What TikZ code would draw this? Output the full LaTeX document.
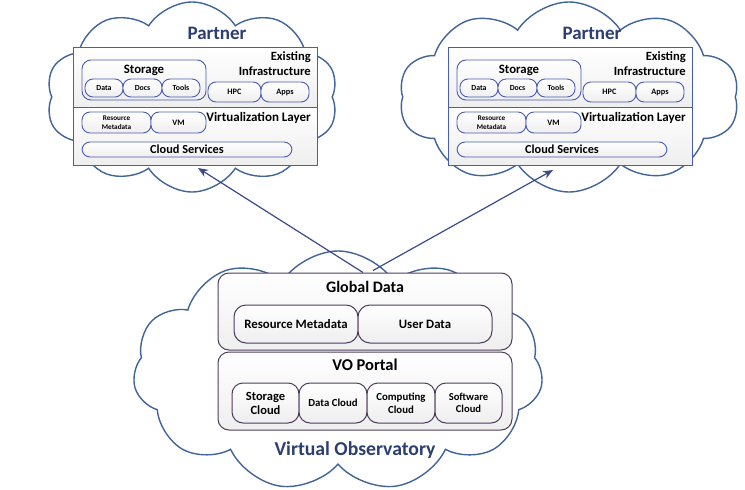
\documentclass[tikz,border=0pt]{standalone}
\usepackage{fontspec}
\setmainfont{Carlito}
\usetikzlibrary{shapes.symbols,arrows.meta,calc}
\definecolor{cloudc}{HTML}{41649B}
\definecolor{pboxc}{HTML}{4A5CB3}
\definecolor{vboxc}{HTML}{4D3C5C}
\definecolor{titlec}{HTML}{2C3E72}
\definecolor{arrowc}{HTML}{3A4A8C}
\newcommand{\partnerblock}[3]{%
  \node[cloudshape, minimum width=#3pt, minimum height=190pt] (#1cloud) at (#2,97) {};
  \node[ptitle] (#1title) at (217,33) {Partner};
  \node[pbox, minimum width=244pt, minimum height=60pt] (#1ei) at (195,77) {};
  \node[pbox, minimum width=244pt, minimum height=58pt] (#1vl) at (195,136) {};
  \node[pbox, rounded corners=9pt, minimum width=124pt, minimum height=40pt] (#1stor) at (144,80) {};
  \node[font=\bfseries\fontsize{12.8}{14}\selectfont] (#1stort) at (144,70) {Storage};
  \node[pbox, pill, font=\bfseries\fontsize{7.8}{9}\selectfont, minimum width=38pt, minimum height=18pt] (#1data) at (104,88) {Data};
  \node[pbox, pill, font=\bfseries\fontsize{7.8}{9}\selectfont, minimum width=39pt, minimum height=18pt] (#1docs) at (142.5,88) {Docs};
  \node[pbox, pill, font=\bfseries\fontsize{7.8}{9}\selectfont, minimum width=38pt, minimum height=18pt] (#1tools) at (181,88) {Tools};
  \node[pbox, pill, font=\bfseries\fontsize{8.3}{9}\selectfont, minimum width=53pt, minimum height=20pt] (#1hpc) at (234.5,92) {HPC};
  \node[pbox, pill, font=\bfseries\fontsize{8.3}{9}\selectfont, minimum width=48pt, minimum height=20pt] (#1apps) at (285,92) {Apps};
  \node[anchor=north east, align=right, font=\bfseries\fontsize{12.6}{15}\selectfont, inner sep=0pt] (#1eit) at (311,51.5) {Existing\\Infrastructure};
  \node[pbox, pill, align=center, font=\bfseries\fontsize{7.2}{8.5}\selectfont, minimum width=69pt, minimum height=21pt] (#1rm) at (116.5,122.5) {Resource\\Metadata};
  \node[pbox, pill, font=\bfseries\fontsize{8.3}{9}\selectfont, minimum width=55pt, minimum height=21pt] (#1vm) at (178.5,122.5) {VM};
  \node[anchor=east, font=\bfseries\fontsize{13}{14}\selectfont, inner sep=0pt] (#1vlt) at (311,118) {Virtualization Layer};
  \node[pbox, pill, font=\bfseries\fontsize{12.3}{13}\selectfont, minimum width=210pt, minimum height=15pt] (#1cs) at (187,149.5) {Cloud Services};
}
\begin{document}
\begin{tikzpicture}[x=1pt,y=-1pt,
  cloudshape/.style={cloud, cloud puffs=10, cloud puff arc=115, draw=cloudc, line width=1.4pt, fill=white, inner sep=0pt},
  ptitle/.style={text=titlec, font=\bfseries\fontsize{19}{21}\selectfont},
  box/.style={draw, line width=0.9pt, top color=white, bottom color=gray!13, inner sep=0pt, align=center, font=\bfseries},
  pbox/.style={box, draw=pboxc},
  vbox/.style={box, draw=vboxc, line width=1pt},
  pill/.style={rounded corners=8pt},
  arr/.style={draw=arrowc, line width=1.2pt, -{Stealth[length=10pt,width=8pt]}}
]
\useasboundingbox (0,0) rectangle (745,490);
\fill[white] (0,0) rectangle (745,490);
% partners
\begin{scope}
  \partnerblock{L}{192}{292}
\end{scope}
\begin{scope}[xshift=375pt]
  \partnerblock{R}{194}{340}
\end{scope}
% bottom cloud
\node[cloudshape, cloud puffs=11, minimum width=410pt, minimum height=240pt] (vocloud) at (338,371) {};
\node[vbox, rounded corners=11pt, minimum width=294pt, minimum height=77pt] (gd) at (365,311.5) {};
\node[font=\bfseries\fontsize{16}{18}\selectfont] (gdt) at (365,287) {Global Data};
\node[vbox, rounded corners=12pt, minimum width=124pt, minimum height=38pt, font=\bfseries\fontsize{12.8}{14}\selectfont] (grm) at (296,324) {Resource Metadata};
\node[vbox, rounded corners=12pt, minimum width=134pt, minimum height=38pt, font=\bfseries\fontsize{12.8}{14}\selectfont] (gud) at (425,324) {User Data};
\node[vbox, rounded corners=11pt, minimum width=294pt, minimum height=78pt] (vo) at (365,391) {};
\node[font=\bfseries\fontsize{16.5}{18}\selectfont] (vot) at (365,365) {VO Portal};
\node[vbox, rounded corners=11pt, minimum width=67pt, minimum height=40pt, font=\bfseries\fontsize{12.5}{14}\selectfont] (sc) at (265.5,403) {Storage\\Cloud};
\node[vbox, rounded corners=11pt, minimum width=68pt, minimum height=40pt, font=\bfseries\fontsize{10.8}{12}\selectfont] (dc) at (333,403) {Data Cloud};
\node[vbox, rounded corners=11pt, minimum width=68pt, minimum height=40pt, font=\bfseries\fontsize{10.8}{12.5}\selectfont] (cc) at (401,403) {Computing\\Cloud};
\node[vbox, rounded corners=11pt, minimum width=67pt, minimum height=40pt, font=\bfseries\fontsize{10.6}{12.5}\selectfont] (swc) at (468.5,403) {Software\\Cloud};
\node[text=titlec, font=\bfseries\fontsize{19.7}{22}\selectfont] (vobs) at (355,450) {Virtual Observatory};
% arrows
\coordinate (la) at (198,168);
\coordinate (ra) at (553,170);
\draw[arr] ($(gd.north)+(-2,0)$) -- (la);
\draw[arr] ($(gd.north)+(8,-2)$) -- (ra);
\end{tikzpicture}
\end{document}
